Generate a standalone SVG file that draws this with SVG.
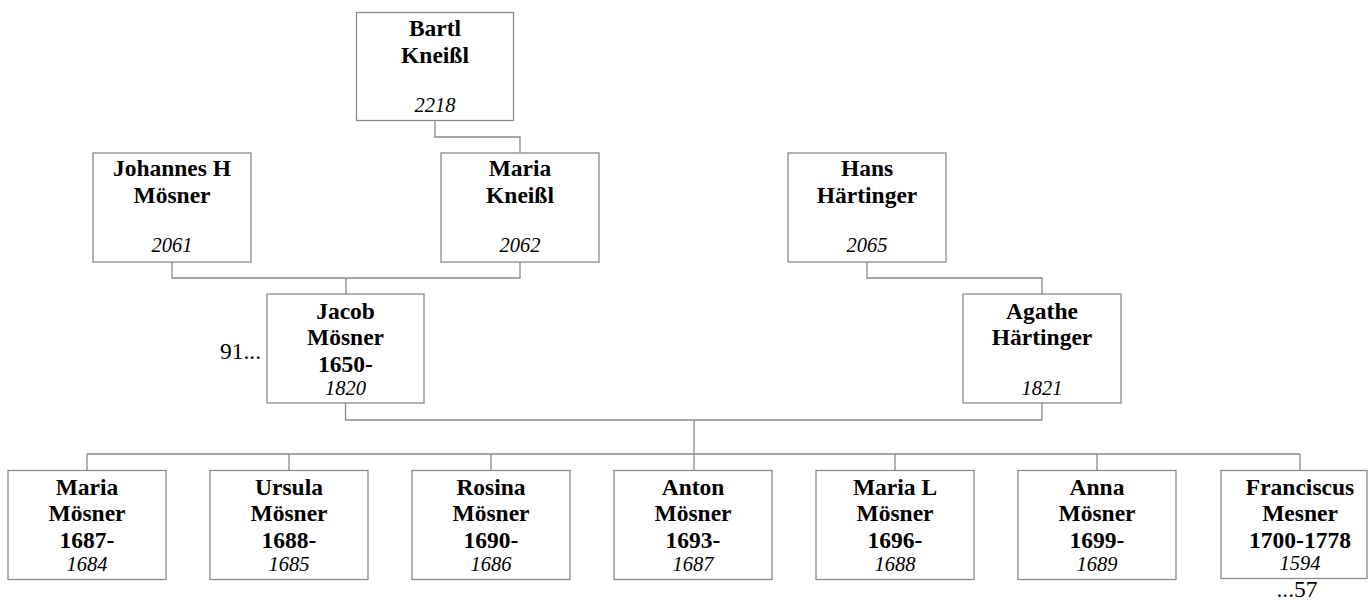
<svg xmlns="http://www.w3.org/2000/svg" width="1368" height="602" viewBox="0 0 1368 602">
<style>
.box{fill:#fff;stroke:#8a8a8a;stroke-width:1.3}
.ln{fill:none;stroke:#8a8a8a;stroke-width:1.3}
.b{font-family:"Liberation Serif","Times New Roman",serif;font-weight:bold;font-size:23.5px;fill:#000;text-anchor:middle}
.i{font-family:"Liberation Serif","Times New Roman",serif;font-style:italic;font-size:20.5px;fill:#000;text-anchor:middle}
.r{font-family:"Liberation Serif","Times New Roman",serif;font-size:23.5px;fill:#000}
</style>
<rect width="1368" height="602" fill="#fff"/>
<g id="connectors">
<path class="ln" d="M435 120.5V137H520V153"/>
<path class="ln" d="M172 262V278H520V262M346 278V294"/>
<path class="ln" d="M867 262V278H1042V294"/>
<path class="ln" d="M345.5 403V420H1042V403M694 420V470"/>
<path class="ln" d="M87 454H1300M87 454V470M289 454V470M491 454V470M895 454V470M1097 454V470M1300 454V470"/>
</g>
<g id="n-bartl"><rect class="box" x="356.5" y="12.5" width="157" height="108"/><text class="b" x="435" y="36">Bartl</text><text class="b" x="435" y="63">Kneißl</text><text class="i" x="435" y="112">2218</text></g>
<g id="n-johannes"><rect class="box" x="93" y="153" width="158" height="109"/><text class="b" x="172" y="176">Johannes H</text><text class="b" x="172" y="203">Mösner</text><text class="i" x="172" y="252">2061</text></g>
<g id="n-mariak"><rect class="box" x="441" y="153" width="158" height="109"/><text class="b" x="520" y="176">Maria</text><text class="b" x="520" y="203">Kneißl</text><text class="i" x="520" y="252">2062</text></g>
<g id="n-hans"><rect class="box" x="788" y="153" width="158" height="109"/><text class="b" x="867" y="176">Hans</text><text class="b" x="867" y="203">Härtinger</text><text class="i" x="867" y="252">2065</text></g>
<g id="n-jacob"><rect class="box" x="267" y="294" width="157" height="109"/><text class="b" x="345.5" y="319">Jacob</text><text class="b" x="345.5" y="345">Mösner</text><text class="b" x="345.5" y="372">1650-</text><text class="i" x="345.5" y="395">1820</text><text class="r" x="261" y="359" text-anchor="end">91...</text></g>
<g id="n-agathe"><rect class="box" x="963" y="294" width="158" height="109"/><text class="b" x="1042" y="319">Agathe</text><text class="b" x="1042" y="345">Härtinger</text><text class="i" x="1042" y="395">1821</text></g>
<g id="n-maria"><rect class="box" x="8" y="470.5" width="158" height="109"/><text class="b" x="87" y="495">Maria</text><text class="b" x="87" y="521">Mösner</text><text class="b" x="87" y="548">1687-</text><text class="i" x="87" y="571">1684</text></g>
<g id="n-ursula"><rect class="box" x="210" y="470.5" width="158" height="109"/><text class="b" x="289" y="495">Ursula</text><text class="b" x="289" y="521">Mösner</text><text class="b" x="289" y="548">1688-</text><text class="i" x="289" y="571">1685</text></g>
<g id="n-rosina"><rect class="box" x="412" y="470.5" width="158" height="109"/><text class="b" x="491" y="495">Rosina</text><text class="b" x="491" y="521">Mösner</text><text class="b" x="491" y="548">1690-</text><text class="i" x="491" y="571">1686</text></g>
<g id="n-anton"><rect class="box" x="614" y="470.5" width="158" height="109"/><text class="b" x="693" y="495">Anton</text><text class="b" x="693" y="521">Mösner</text><text class="b" x="693" y="548">1693-</text><text class="i" x="693" y="571">1687</text></g>
<g id="n-marial"><rect class="box" x="816" y="470.5" width="158" height="109"/><text class="b" x="895" y="495">Maria L</text><text class="b" x="895" y="521">Mösner</text><text class="b" x="895" y="548">1696-</text><text class="i" x="895" y="571">1688</text></g>
<g id="n-anna"><rect class="box" x="1018" y="470.5" width="158" height="109"/><text class="b" x="1097" y="495">Anna</text><text class="b" x="1097" y="521">Mösner</text><text class="b" x="1097" y="548">1699-</text><text class="i" x="1097" y="571">1689</text></g>
<g id="n-franciscus"><rect class="box" x="1221" y="470.5" width="146" height="108"/><text class="b" x="1300" y="495">Franciscus</text><text class="b" x="1300" y="521">Mesner</text><text class="b" x="1300" y="548">1700-1778</text><text class="i" x="1300" y="570">1594</text><text class="r" x="1297" y="597" text-anchor="middle">...57</text></g>
</svg>
